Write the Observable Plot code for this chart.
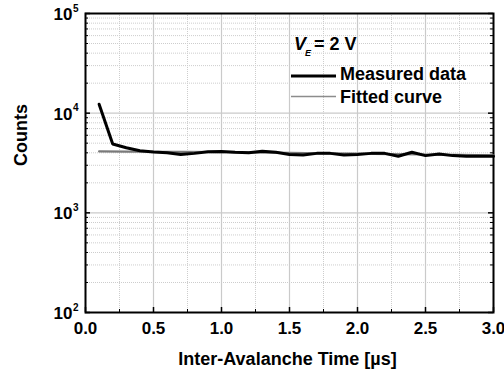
<!DOCTYPE html>
<html>
<head>
<meta charset="utf-8">
<script src="https://cdn.jsdelivr.net/npm/d3@7"></script>
<script src="https://cdn.jsdelivr.net/npm/@observablehq/plot@0.6"></script>
<style>
  html, body { margin: 0; padding: 0; background: #fff; }
</style>
</head>
<body>
<div id="chart"></div>
<script>
// ---- data ----
const measuredX = [0.1,0.2,0.3,0.4,0.5,0.6,0.7,0.8,0.9,1.0,1.1,1.2,1.3,1.4,1.5,1.6,1.7,1.8,1.9,2.0,2.1,2.2,2.3,2.4,2.5,2.6,2.7,2.8,2.9,3.0];
const measuredY = [12300,4900,4500,4200,4080,4000,3850,3950,4100,4120,4050,4000,4150,4050,3850,3800,3950,3950,3800,3850,3950,3950,3700,4050,3750,3900,3750,3700,3700,3700];
const fittedX = [0.1,0.5,1.0,1.5,2.0,2.5,3.0];
const fittedY = [4130,4100,4060,3990,3920,3850,3780];
const xMajor = [0,0.5,1.0,1.5,2.0,2.5,3.0];
const xMinor = [0.25,0.75,1.25,1.75,2.25,2.75];
const yMajor = [100,1000,10000,100000];
const yMinor = [];
for (const d of [100,1000,10000]) for (let k = 2; k <= 9; k++) yMinor.push(d*k);
const xLabel = "Inter-Avalanche Time [µs]";
const yLabel = "Counts";
const legendTitle = {v: "V", sub: "E", rest: "= 2 V"};
const seriesNames = ["Measured data", "Fitted curve"];

const measured = measuredX.map((x,i) => ({x, y: measuredY[i]}));
const fitted = fittedX.map((x,i) => ({x, y: fittedY[i]}));

const W = 504, H = 374, mL = 85, mR = 11, mT = 13, mB = 62;
const pw = W - mL - mR, ph = H - mT - mB;
const font = "'Liberation Sans', Arial, sans-serif";

const chart = Plot.plot({
  width: W, height: H,
  marginLeft: mL, marginRight: mR, marginTop: mT, marginBottom: mB,
  style: {fontFamily: font, fontWeight: "bold", fontSize: "16px", background: "#fff", color: "#000"},
  x: {domain: [0, 3], axis: null},
  y: {type: "log", domain: [100, 100000], axis: null},
  marks: [
    Plot.ruleX(xMinor, {x: d => d, stroke: "#cdcdcd", strokeDasharray: "1,1", strokeWidth: 1}),
    Plot.ruleY(yMinor, {y: d => d, stroke: "#cdcdcd", strokeDasharray: "1,1", strokeWidth: 1}),
    Plot.ruleX(xMajor, {x: d => d, stroke: "#cacaca", strokeWidth: 1.2}),
    Plot.ruleY(yMajor, {y: d => d, stroke: "#cacaca", strokeWidth: 1.2}),
    // inward ticks
    Plot.ruleY(yMinor, {y: d => d, stroke: "#000", insetRight: pw - 3}),
    Plot.ruleY(yMinor, {y: d => d, stroke: "#000", insetLeft: pw - 3}),
    Plot.ruleY(yMajor, {y: d => d, stroke: "#000", insetRight: pw - 5, strokeWidth: 1.5}),
    Plot.ruleY(yMajor, {y: d => d, stroke: "#000", insetLeft: pw - 5, strokeWidth: 1.5}),
    Plot.ruleX(xMinor, {x: d => d, stroke: "#000", insetTop: ph - 3}),
    Plot.ruleX(xMajor, {x: d => d, stroke: "#000", insetTop: ph - 5, strokeWidth: 1.5}),
    Plot.frame({stroke: "#000", strokeWidth: 2}),
    // series
    Plot.line(fitted, {x: "x", y: "y", stroke: "#7a7a7a", strokeWidth: 2.2, curve: "monotone-x"}),
    Plot.line(measured, {x: "x", y: "y", stroke: "#000", strokeWidth: 3, strokeLinejoin: "miter"}),
    // y tick labels 10^n
    Plot.text(yMajor, {y: d => d, text: () => "10", frameAnchor: "left", textAnchor: "end", dx: -13, dy: 1, fontSize: 17, fontWeight: "bold"}),
    Plot.text(yMajor, {y: d => d, text: d => String(Math.round(Math.log10(d))), frameAnchor: "left", textAnchor: "start", dx: -12.5, dy: -5, fontSize: 10, fontWeight: "bold"}),
    // x tick labels
    Plot.text(xMajor, {x: d => d, text: d => d.toFixed(1), frameAnchor: "bottom", dy: 21, fontSize: 17, fontWeight: "bold"}),
    // axis titles
    Plot.text([xLabel], {text: d => d, frameAnchor: "bottom", dy: 52, dx: -2, fontSize: 18, fontWeight: "bold"}),
    Plot.text([yLabel], {text: d => d, frameAnchor: "left", rotate: -90, dx: -64, dy: 3, fontSize: 18, fontWeight: "bold"})
  ]
});

// legend (pixel-positioned annotation)
const svg = d3.select(chart);
const g = svg.append("g").attr("font-family", font).attr("font-weight", "bold").attr("fill", "#000").attr("text-anchor", "start");
const t = g.append("text").attr("x", 294).attr("y", 50).attr("font-size", 18);
t.append("tspan").attr("font-style", "italic").text(legendTitle.v);
t.append("tspan").attr("font-style", "italic").attr("font-size", 9).attr("dy", 6).attr("dx", -1).text(legendTitle.sub);
t.append("tspan").attr("dy", -6).attr("dx", 3).text(legendTitle.rest);
g.append("line").attr("x1", 291).attr("x2", 336).attr("y1", 76).attr("y2", 76).attr("stroke", "#000").attr("stroke-width", 3);
g.append("text").attr("x", 340).attr("y", 80).attr("font-size", 18).text(seriesNames[0]);
g.append("line").attr("x1", 291).attr("x2", 336).attr("y1", 96.5).attr("y2", 96.5).attr("stroke", "#8c8c8c").attr("stroke-width", 1.5);
g.append("text").attr("x", 340).attr("y", 102.5).attr("font-size", 18).text(seriesNames[1]);

document.getElementById("chart").appendChild(chart);
</script>
</body>
</html>
